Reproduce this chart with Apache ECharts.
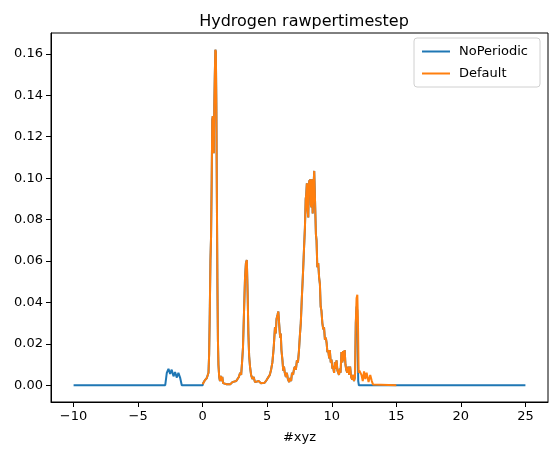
<!DOCTYPE html>
<html>
<head>
<meta charset="utf-8">
<script src="https://cdn.jsdelivr.net/npm/echarts@6/dist/echarts.min.js"></script>
<style>
  html, body { margin: 0; padding: 0; background: #fff; }
  #main { width: 556px; height: 455px; }
</style>
</head>
<body>
<div id="main"></div>
<script>
// x ticks / y ticks (matplotlib style)
var xTicks = [-10, -5, 0, 5, 10, 15, 20, 25];
var yTicks = [0, 0.02, 0.04, 0.06, 0.08, 0.10, 0.12, 0.14, 0.16];

// NoPeriodic only: small bump left of zero
var noPeriodicLeft = [
  [-10, 0], [-2.9, 0], [-2.78, 0.0060], [-2.65, 0.0079], [-2.52, 0.0055],
  [-2.40, 0.0075], [-2.26, 0.0043], [-2.14, 0.0063], [-2.00, 0.0037],
  [-1.88, 0.0060], [-1.75, 0.0037], [-1.62, 0], [0, 0]
];

// part where both curves lie on top of each other
var sharedPart = [
  [0.00, 0.0005], [0.05, 0.0012], [0.12, 0.0008], [0.18, 0.0025], [0.25, 0.0018],
  [0.32, 0.0035], [0.40, 0.0030], [0.45, 0.0060], [0.50, 0.0150], [0.55, 0.0350],
  [0.60, 0.0600], [0.65, 0.0720], [0.70, 0.1000], [0.74, 0.1280], [0.78, 0.1300],
  [0.82, 0.1290], [0.86, 0.1120], [0.90, 0.1350], [0.94, 0.1500], [0.98, 0.1620],
  [1.02, 0.1610], [1.06, 0.1350], [1.10, 0.0900], [1.14, 0.0500], [1.18, 0.0220],
  [1.22, 0.0100], [1.28, 0.0040], [1.34, 0.0020], [1.40, 0.0045], [1.46, 0.0020],
  [1.52, 0.0040], [1.58, 0.0010], [1.70, 0.0015], [1.85, 0.0005], [2.00, 0.0012],
  [2.15, 0.0005], [2.30, 0.0015], [2.45, 0.0008], [2.60, 0.0020], [2.70, 0.0012],
  [2.80, 0.0040], [2.90, 0.0060], [2.98, 0.0050], [3.05, 0.0110], [3.12, 0.0180],
  [3.20, 0.0350], [3.28, 0.0520], [3.35, 0.0590], [3.42, 0.0605], [3.48, 0.0450],
  [3.54, 0.0250], [3.60, 0.0140], [3.67, 0.0088], [3.75, 0.0050], [3.85, 0.0030],
  [3.95, 0.0040], [4.05, 0.0015], [4.20, 0.0010], [4.35, 0.0020], [4.50, 0.0010],
  [4.65, 0.0018], [4.80, 0.0012], [4.95, 0.0025], [5.08, 0.0030], [5.20, 0.0050],
  [5.30, 0.0075], [5.40, 0.0110], [5.50, 0.0180], [5.60, 0.0280], [5.66, 0.0250],
  [5.72, 0.0320], [5.80, 0.0340], [5.86, 0.0356], [5.92, 0.0300], [6.00, 0.0230],
  [6.05, 0.0250], [6.10, 0.0170], [6.18, 0.0120], [6.24, 0.0070], [6.30, 0.0090],
  [6.36, 0.0060], [6.45, 0.0040], [6.52, 0.0060], [6.60, 0.0030], [6.70, 0.0015],
  [6.78, 0.0035], [6.85, 0.0020], [6.92, 0.0060], [7.00, 0.0050], [7.08, 0.0080],
  [7.15, 0.0090], [7.22, 0.0075], [7.30, 0.0120], [7.38, 0.0110], [7.45, 0.0160],
  [7.53, 0.0240], [7.60, 0.0300], [7.68, 0.0420], [7.74, 0.0500], [7.79, 0.0570],
  [7.85, 0.0660], [7.92, 0.0760], [7.98, 0.0900], [8.02, 0.0920], [8.07, 0.0975],
  [8.12, 0.0850], [8.18, 0.0810], [8.22, 0.0960], [8.26, 0.0990], [8.30, 0.0960],
  [8.34, 0.0995], [8.38, 0.0870], [8.43, 0.0860], [8.47, 0.0995], [8.52, 0.0830],
  [8.58, 0.0950], [8.64, 0.1035], [8.70, 0.0900], [8.77, 0.0730], [8.82, 0.0700],
  [8.88, 0.0570], [8.95, 0.0590], [9.02, 0.0520], [9.08, 0.0490], [9.14, 0.0380],
  [9.20, 0.0360], [9.27, 0.0300], [9.34, 0.0270], [9.40, 0.0280], [9.47, 0.0220],
  [9.54, 0.0230], [9.60, 0.0205], [9.66, 0.0160], [9.72, 0.0170], [9.80, 0.0130],
  [9.85, 0.0170], [9.92, 0.0110], [9.98, 0.0124], [10.05, 0.0080], [10.10, 0.0090],
  [10.18, 0.0060], [10.24, 0.0110], [10.30, 0.0080], [10.37, 0.0120], [10.44, 0.0070],
  [10.50, 0.0075], [10.56, 0.0050], [10.62, 0.0080], [10.68, 0.0060], [10.75, 0.0160],
  [10.82, 0.0110], [10.88, 0.0165], [10.95, 0.0120], [11.00, 0.0170], [11.06, 0.0100],
  [11.12, 0.0075], [11.20, 0.0060], [11.28, 0.0090], [11.35, 0.0050], [11.42, 0.0090],
  [11.50, 0.0040], [11.58, 0.0027], [11.65, 0.0050], [11.72, 0.0020], [11.80, 0.0040]
];

// NoPeriodic tail: spike at 12 then flat zero
var noPeriodicRight = [
  [11.86, 0.0300], [11.92, 0.0380], [11.98, 0.0360], [12.05, 0.0020], [12.10, 0], [25, 0]
];

// Default tail: spike, small noise, zero until 15
var defaultRight = [
  [11.86, 0.0300], [11.92, 0.0420], [11.98, 0.0437], [12.03, 0.0300], [12.08, 0.0060],
  [12.14, 0.0070], [12.20, 0.0067], [12.30, 0.0050], [12.40, 0.0020], [12.50, 0.0067],
  [12.60, 0.0030], [12.70, 0.0060], [12.85, 0.0015], [12.98, 0.0050], [13.10, 0.0020],
  [13.20, 0.0003], [13.30, 0], [15.00, 0]
];

var noPeriodicData = noPeriodicLeft.concat(sharedPart, noPeriodicRight);
var defaultData = sharedPart.concat(defaultRight);

var myChart = echarts.init(document.getElementById('main'));
var fontFam = 'DejaVu Sans';
var option = {
  animation: false,
  title: {
    text: 'Hydrogen rawpertimestep',
    left: 299, top: 9, textAlign: 'center',
    textStyle: { fontFamily: fontFam, fontSize: 16, fontWeight: 'normal', color: '#000' }
  },
  legend: {
    orient: 'vertical',
    right: 16, top: 38,
    icon: 'rect', itemWidth: 28, itemHeight: 2, itemGap: 9,
    padding: [7, 12, 7, 8],
    borderColor: '#d0d0d0', borderWidth: 1, borderRadius: 3,
    backgroundColor: 'rgba(255,255,255,0.8)',
    textStyle: { fontFamily: fontFam, fontSize: 13, color: '#000', padding: [0, 0, 0, 4] },
    data: ['NoPeriodic', 'Default']
  },
  grid: {
    left: 51, right: 8, top: 33, bottom: 53,
    show: true, borderColor: '#000', borderWidth: 1
  },
  xAxis: {
    type: 'value', min: -11.75, max: 26.75,
    name: '#xyz', nameLocation: 'middle', nameGap: 29,
    nameTextStyle: { fontFamily: fontFam, fontSize: 13, color: '#000' },
    axisLine: { show: true, onZero: false, lineStyle: { color: '#000' } },
    axisTick: { show: true, customValues: xTicks, length: 5, lineStyle: { color: '#000' } },
    axisLabel: {
      customValues: xTicks, margin: 8,
      fontFamily: fontFam, fontSize: 13, color: '#000',
      formatter: function (v) { return v < 0 ? '\u2212' + Math.abs(v) : String(v); }
    },
    splitLine: { show: false }
  },
  yAxis: {
    type: 'value', min: -0.0081, max: 0.1701,
    axisLine: { show: true, onZero: false, lineStyle: { color: '#000' } },
    axisTick: { show: true, customValues: yTicks, length: 5, lineStyle: { color: '#000' } },
    axisLabel: {
      customValues: yTicks, margin: 8,
      fontFamily: fontFam, fontSize: 13, color: '#000',
      formatter: function (v) { return v.toFixed(2); }
    },
    splitLine: { show: false }
  },
  series: [
    {
      name: 'NoPeriodic', type: 'line', data: noPeriodicData,
      showSymbol: false, symbol: 'none',
      lineStyle: { color: '#1f77b4', width: 2 }, itemStyle: { color: '#1f77b4' }
    },
    {
      name: 'Default', type: 'line', data: defaultData,
      showSymbol: false, symbol: 'none',
      lineStyle: { color: '#ff7f0e', width: 2 }, itemStyle: { color: '#ff7f0e' }
    }
  ]
};
myChart.setOption(option);
</script>
</body>
</html>
